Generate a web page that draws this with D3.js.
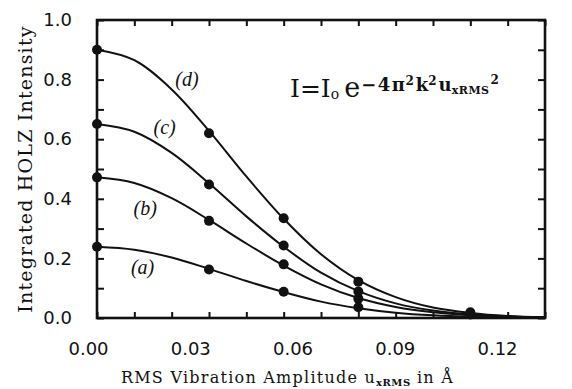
<!DOCTYPE html>
<html><head><meta charset="utf-8">
<script src="https://cdn.jsdelivr.net/npm/d3@7"></script>
<style>body{margin:0;background:#fff}svg{display:block}</style>
</head><body>
<svg id="chart" width="572" height="389"></svg>
<script>
// ---- data ----
const seriesNames = ["(a)", "(b)", "(c)", "(d)"];
const curveU = [0, 0.01, 0.02, 0.03, 0.04, 0.05, 0.06, 0.07, 0.08, 0.09, 0.10, 0.11, 0.12];
const curveA = [0.239, 0.229, 0.203, 0.165, 0.124, 0.087, 0.055, 0.033, 0.018, 0.009, 0.004, 0.002, 0.001];
const curveB = [0.472, 0.453, 0.402, 0.329, 0.250, 0.176, 0.113, 0.067, 0.037, 0.019, 0.009, 0.004, 0.002];
const curveC = [0.651, 0.625, 0.554, 0.452, 0.341, 0.239, 0.152, 0.090, 0.049, 0.025, 0.012, 0.005, 0.002];
const curveD = [0.900, 0.865, 0.767, 0.628, 0.475, 0.333, 0.214, 0.127, 0.070, 0.035, 0.017, 0.007, 0.003];
const pointUA = [0, 0.03, 0.05, 0.07];
const pointsA = [0.239, 0.163, 0.088, 0.036];
const pointUB = [0, 0.03, 0.05, 0.07];
const pointsB = [0.472, 0.326, 0.180, 0.065];
const pointUC = [0, 0.03, 0.05, 0.07, 0.10];
const pointsC = [0.651, 0.448, 0.243, 0.089, 0.012];
const pointUD = [0, 0.03, 0.05, 0.07, 0.10];
const pointsD = [0.900, 0.620, 0.335, 0.122, 0.019];
const xTickValues = [0, 0.01, 0.02, 0.03, 0.04, 0.05, 0.06, 0.07, 0.08, 0.09, 0.10, 0.11, 0.12];
const xLabelValues = [0, 0.03, 0.06, 0.09, 0.12];
const yTickValues = [0, 0.1, 0.2, 0.3, 0.4, 0.5, 0.6, 0.7, 0.8, 0.9, 1.0];
const yLabelValues = [0, 0.2, 0.4, 0.6, 0.8, 1.0];

// ---- layout ----
const W = 572, H = 389;
const m = {left: 97, top: 20, right: 27, bottom: 71};
const svg = d3.select("#chart");
const x = d3.scaleLinear().domain([0, 0.12]).range([m.left, W - m.right]);
const y = d3.scaleLinear().domain([0, 1.0]).range([H - m.bottom, m.top]);
// tick labels in the original are printed slightly compressed
const xLab = d3.scaleLinear().domain([0, 0.12]).range([x(0) - 9, x(0.12) - 48]);

const ink = "#111";

// ticks (inward) on all four sides
function tickAxis(axis, tf) {
  const g = svg.append("g").attr("transform", tf).call(axis);
  g.select(".domain").remove();
  g.selectAll(".tick line").attr("stroke", ink).attr("stroke-width", 2);
  g.selectAll(".tick text").remove();
  return g;
}
tickAxis(d3.axisBottom(x).tickValues(xTickValues).tickSize(-6), `translate(0,${y(0)})`);
tickAxis(d3.axisTop(x).tickValues(xTickValues).tickSize(-6), `translate(0,${y(1)})`);
tickAxis(d3.axisLeft(y).tickValues(yTickValues).tickSize(-7), `translate(${x(0)},0)`);
tickAxis(d3.axisRight(y).tickValues(yTickValues).tickSize(-7), `translate(${x(0.12)},0)`);

// frame
svg.append("rect")
  .attr("x", x(0)).attr("y", y(1))
  .attr("width", x(0.12) - x(0)).attr("height", y(0) - y(1))
  .attr("fill", "none").attr("stroke", ink).attr("stroke-width", 2.6);

// tick labels
const gx = svg.append("g").attr("transform", `translate(0,${y(0)})`)
  .call(d3.axisBottom(xLab).tickValues(xLabelValues).tickSize(0).tickPadding(24).tickFormat(d3.format(".2f")));
gx.select(".domain").remove();
gx.selectAll("text").attr("font-family", "DejaVu Sans").attr("font-size", 18).attr("fill", ink);

const gy = svg.append("g").attr("transform", `translate(${x(0)},0)`)
  .call(d3.axisLeft(y).tickValues(yLabelValues).tickSize(0).tickPadding(25).tickFormat(d3.format(".1f")));
gy.select(".domain").remove();
gy.selectAll("text").attr("font-family", "DejaVu Sans").attr("font-size", 18).attr("fill", ink);

// curves and points
const curves = [curveA, curveB, curveC, curveD];
const pU = [pointUA, pointUB, pointUC, pointUD];
const pV = [pointsA, pointsB, pointsC, pointsD];
const line = d3.line().x(d => x(d[0])).y(d => y(d[1])).curve(d3.curveCatmullRom.alpha(0.5));
curves.forEach((cv, i) => {
  svg.append("path")
    .datum(curveU.map((u, j) => [u, cv[j]]))
    .attr("d", line).attr("fill", "none").attr("stroke", ink).attr("stroke-width", 2);
  svg.append("g").selectAll("circle")
    .data(pU[i].map((u, j) => [u, pV[i][j]]))
    .join("circle")
    .attr("cx", d => x(d[0])).attr("cy", d => y(d[1])).attr("r", 5).attr("fill", ink);
});

// series labels
const labelPos = [[0.0122, 0.148], [0.0129, 0.346], [0.0181, 0.617], [0.0241, 0.778]];
seriesNames.forEach((s, i) => {
  svg.append("text")
    .attr("x", x(labelPos[i][0])).attr("y", y(labelPos[i][1]))
    .attr("text-anchor", "middle")
    .attr("font-family", "Liberation Serif").attr("font-style", "italic")
    .attr("font-size", 20).attr("fill", ink).text(s);
});

// formula
const f = svg.append("text").attr("x", 290).attr("y", 97)
  .attr("font-family", "DejaVu Serif").attr("fill", ink);
f.append("tspan").attr("font-size", 25).text("I=I");
f.append("tspan").attr("font-size", 14).attr("dy", 2).text("o");
f.append("tspan").attr("font-size", 27).attr("dy", -2).attr("dx", 5).text("e");
f.append("tspan").attr("font-size", 18).attr("font-weight", "bold").attr("letter-spacing", 1.5).attr("dy", -6).attr("dx", 1).text("\u22124\u03c0");
f.append("tspan").attr("font-size", 12).attr("font-weight", "bold").attr("dy", -6).attr("dx", -1).text("2");
f.append("tspan").attr("font-size", 18).attr("font-weight", "bold").attr("dy", 6).attr("dx", 2).text("k");
f.append("tspan").attr("font-size", 12).attr("font-weight", "bold").attr("dy", -6).text("2");
f.append("tspan").attr("font-size", 18).attr("font-weight", "bold").attr("dy", 6).attr("dx", 2).text("u");
f.append("tspan").attr("font-size", 11).attr("font-weight", "bold").attr("letter-spacing", 0.5).attr("dy", 3).text("xRMS");
f.append("tspan").attr("font-size", 12).attr("font-weight", "bold").attr("dy", -10).attr("dx", 1).text("2");

// axis titles
const xt = svg.append("text").attr("x", (118 + 457) / 2).attr("y", 383)
  .attr("text-anchor", "middle").attr("font-family", "DejaVu Serif")
  .attr("font-size", 16).attr("letter-spacing", 1.25).attr("fill", ink);
xt.append("tspan").text("RMS Vibration Amplitude u");
xt.append("tspan").attr("font-size", 10).attr("font-weight", "bold").attr("letter-spacing", 0.5).attr("dy", 3).text("xRMS");
xt.append("tspan").attr("dy", -3).text(" in \u00c5");

svg.append("text")
  .attr("transform", `translate(32,${(y(0) + y(1)) / 2}) rotate(-90)`)
  .attr("text-anchor", "middle").attr("font-family", "DejaVu Serif")
  .attr("font-size", 19).attr("letter-spacing", 1.2).attr("fill", ink)
  .text("Integrated HOLZ Intensity");
</script>
</body></html>
